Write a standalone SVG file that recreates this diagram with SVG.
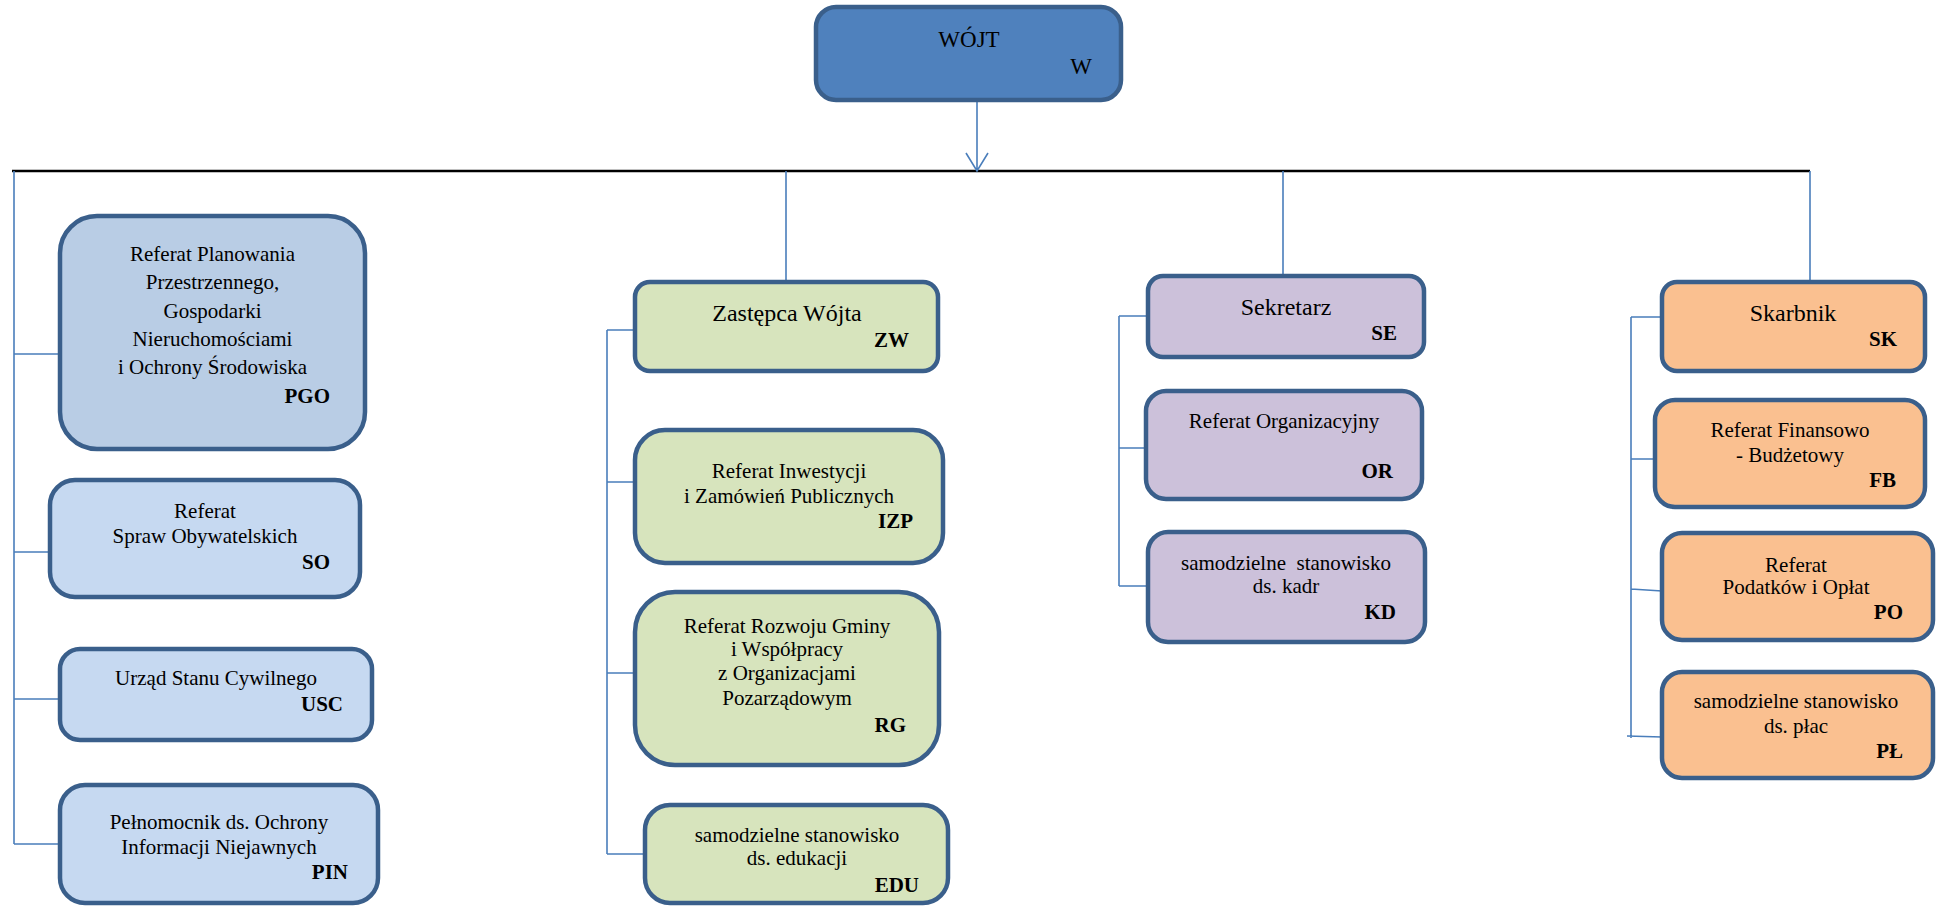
<svg xmlns="http://www.w3.org/2000/svg" width="1936" height="906" viewBox="0 0 1936 906">
<style>
.box{stroke:#3a5f8b;stroke-width:4.5}
.blue{fill:#c6d9f1}
.blue2{fill:#b9cde5}
.green{fill:#d7e4bd}
.purple{fill:#ccc1da}
.orange{fill:#fac090}
text{font-family:"Liberation Serif","Times New Roman",serif;fill:#000}
.t{font-size:21px;text-anchor:middle}
.h{font-size:24px;text-anchor:middle}
.c{font-size:21px;font-weight:bold;text-anchor:end}
.con{stroke:#4a7ebb;stroke-width:1.6;fill:none}
</style>
<rect width="1936" height="906" fill="#fff"/>
<g id="connectors">
<line x1="12" y1="171" x2="1810" y2="171" stroke="#000" stroke-width="2.5"/>
<path class="con" d="M977,100 L977,171 M966,153 L977,171 L988,153"/>
<path class="con" d="M14,171 L14,844 M14,354 L60,354 M14,552 L50,552 M14,699 L60,699 M14,844 L60,844"/>
<path class="con" d="M786,171 L786,282 M607,330 L607,854 M607,330 L635,330 M607,482 L635,482 M607,673 L637,673 M607,854 L645,854"/>
<path class="con" d="M1283,171 L1283,276 M1119,316 L1119,586 M1119,316 L1148,316 M1119,448 L1146,448 M1119,586 L1148,586"/>
<path class="con" d="M1810,171 L1810,282 M1631,317 L1631,738 M1631,317 L1662,317 M1631,459 L1655,459 M1631,589 L1662,591 M1627,736 L1662,737"/>
</g>
<g id="W">
<rect class="box" x="816" y="7" width="305" height="93" rx="20" fill="#4f81bd"/>
<text class="h" x="969" y="47" style="font-size:23px">WÓJT</text>
<text x="1092" y="74" style="font-size:23px;text-anchor:end">W</text>
</g>
<g id="PGO">
<rect class="box blue2" x="60" y="216" width="305" height="233" rx="37"/>
<text class="t" x="212.5" y="261">Referat Planowania</text>
<text class="t" x="212.5" y="289">Przestrzennego,</text>
<text class="t" x="212.5" y="318">Gospodarki</text>
<text class="t" x="212.5" y="346">Nieruchomościami</text>
<text class="t" x="212.5" y="374">i Ochrony Środowiska</text>
<text class="c" x="330" y="403">PGO</text>
</g>
<g id="SO">
<rect class="box blue" x="50" y="480" width="310" height="117" rx="25"/>
<text class="t" x="205" y="518">Referat</text>
<text class="t" x="205" y="543">Spraw Obywatelskich</text>
<text class="c" x="330" y="569">SO</text>
</g>
<g id="USC">
<rect class="box blue" x="60" y="649" width="312" height="91" rx="20"/>
<text class="t" x="216" y="685">Urząd Stanu Cywilnego</text>
<text class="c" x="343" y="711">USC</text>
</g>
<g id="PIN">
<rect class="box blue" x="60" y="785" width="318" height="118" rx="25"/>
<text class="t" x="219" y="829">Pełnomocnik ds. Ochrony</text>
<text class="t" x="219" y="854">Informacji Niejawnych</text>
<text class="c" x="348" y="879">PIN</text>
</g>
<g id="ZW">
<rect class="box green" x="635" y="282" width="303" height="89" rx="15"/>
<text class="h" x="787" y="321">Zastępca Wójta</text>
<text class="c" x="909" y="347">ZW</text>
</g>
<g id="IZP">
<rect class="box green" x="635" y="430" width="308" height="133" rx="30"/>
<text class="t" x="789" y="478">Referat Inwestycji</text>
<text class="t" x="789" y="503">i Zamówień Publicznych</text>
<text class="c" x="913" y="528">IZP</text>
</g>
<g id="RG">
<rect class="box green" x="635" y="592" width="304" height="173" rx="40"/>
<text class="t" x="787" y="633">Referat Rozwoju Gminy</text>
<text class="t" x="787" y="656">i Współpracy</text>
<text class="t" x="787" y="680">z Organizacjami</text>
<text class="t" x="787" y="705">Pozarządowym</text>
<text class="c" x="906" y="732">RG</text>
</g>
<g id="EDU">
<rect class="box green" x="645" y="805" width="303" height="98" rx="25"/>
<text class="t" x="797" y="842">samodzielne stanowisko</text>
<text class="t" x="797" y="865">ds. edukacji</text>
<text class="c" x="919" y="892">EDU</text>
</g>
<g id="SE">
<rect class="box purple" x="1148" y="276" width="276" height="81" rx="15"/>
<text class="h" x="1286" y="315">Sekretarz</text>
<text class="c" x="1397" y="340">SE</text>
</g>
<g id="OR">
<rect class="box purple" x="1146" y="391" width="276" height="108" rx="20"/>
<text class="t" x="1284" y="428">Referat Organizacyjny</text>
<text class="c" x="1393" y="478">OR</text>
</g>
<g id="KD">
<rect class="box purple" x="1148" y="532" width="277" height="110" rx="20"/>
<text class="t" x="1286" y="570">samodzielne&#160; stanowisko</text>
<text class="t" x="1286" y="593">ds. kadr</text>
<text class="c" x="1396" y="619">KD</text>
</g>
<g id="SK">
<rect class="box orange" x="1662" y="282" width="263" height="89" rx="15"/>
<text class="h" x="1793" y="321">Skarbnik</text>
<text class="c" x="1897" y="346">SK</text>
</g>
<g id="FB">
<rect class="box orange" x="1655" y="400" width="270" height="107" rx="20"/>
<text class="t" x="1790" y="437">Referat Finansowo</text>
<text class="t" x="1790" y="462">- Budżetowy</text>
<text class="c" x="1896" y="487">FB</text>
</g>
<g id="PO">
<rect class="box orange" x="1662" y="533" width="271" height="107" rx="20"/>
<text class="t" x="1796" y="572">Referat</text>
<text class="t" x="1796" y="594">Podatków i Opłat</text>
<text class="c" x="1903" y="619">PO</text>
</g>
<g id="PL">
<rect class="box orange" x="1662" y="672" width="271" height="106" rx="20"/>
<text class="t" x="1796" y="708">samodzielne stanowisko</text>
<text class="t" x="1796" y="733">ds. płac</text>
<text class="c" x="1903" y="758">PŁ</text>
</g>
</svg>
